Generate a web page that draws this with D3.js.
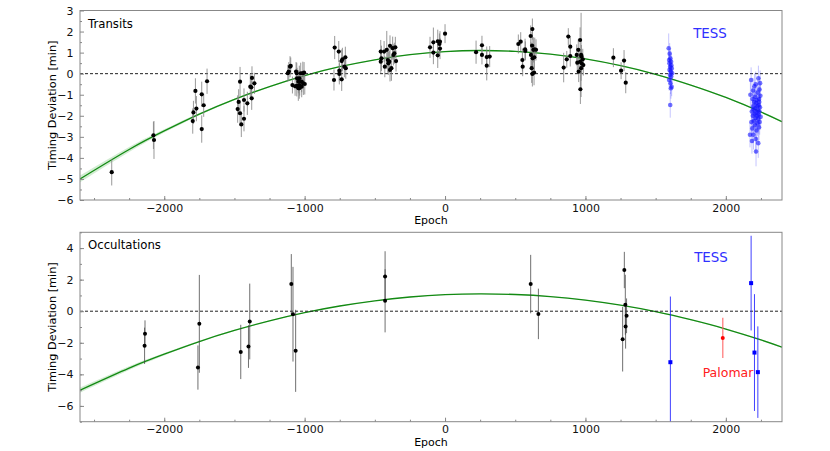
<!DOCTYPE html>
<html>
<head>
<meta charset="utf-8">
<script src="https://cdn.jsdelivr.net/npm/d3@7"></script>
<style>
  body { margin: 0; background: #fff; }
  svg { font-family: "DejaVu Sans", sans-serif; }
</style>
</head>
<body>
<div id="chart"></div>
<script>
// ---- data ----
// [epoch, deviation (min), error (min)]
var transits = [
  [-2374,-4.68,0.63], [-2077,-2.93,0.65], [-2073,-3.15,0.9],
  [-1797,-2.25,0.6], [-1792,-1.84,0.55], [-1778,-0.82,0.6], [-1771,-1.66,0.6],
  [-1733,-0.98,0.6], [-1733,-2.63,0.65], [-1719,-1.50,0.55], [-1695,-0.36,0.6],
  [-1477,-1.68,0.65], [-1470,-1.34,0.6], [-1460,-0.38,0.7], [-1460,-1.88,0.6],
  [-1451,-2.41,0.6], [-1432,-1.25,0.55], [-1432,-2.14,0.6], [-1408,-1.41,0.55],
  [-1387,-0.62,0.6], [-1375,-0.20,0.55], [-1380,-0.65,0.5], [-1377,-1.17,0.55],
  [-1358,-0.46,0.5],
  [-1120,0.02,0.4], [-1113,0.10,0.45], [-1104,0.33,0.5], [-1099,0.37,0.4],
  [-1087,-0.54,0.4], [-1068,-0.60,0.45], [-1061,0.10,0.45], [-1056,0.02,0.5],
  [-1056,-0.58,0.5], [-1054,-0.22,0.5], [-1045,-0.69,0.6], [-1045,-0.38,0.55],
  [-1038,-0.22,0.6], [-1038,-0.69,0.5], [-1035,-0.54,0.5], [-1028,0.02,0.5],
  [-1021,-0.38,0.5], [-1021,-0.62,0.5], [-1013,0.02,0.55], [-1009,-0.46,0.55],
  [-1004,0.05,0.5], [-999,-0.49,0.5],
  [-786,1.24,0.55], [-791,-0.30,0.5], [-757,1.05,0.5], [-753,0.14,0.5],
  [-753,-0.01,0.5], [-736,0.60,0.55], [-731,0.68,0.55], [-736,-0.27,0.55],
  [-717,0.33,0.5], [-710,0.78,0.5], [-707,0.26,0.5],
  [-458,1.05,0.55], [-458,0.57,0.55], [-453,0.73,0.6], [-434,1.05,0.5],
  [-429,0.33,0.5], [-415,1.13,0.9], [-408,0.65,0.6], [-404,0.49,0.55],
  [-397,0.57,0.5], [-392,1.32,0.5], [-392,0.18,0.55], [-382,0.26,0.6],
  [-373,1.21,0.55], [-368,0.89,0.5], [-361,0.97,0.5], [-354,1.25,0.5],
  [-349,0.60,0.5],
  [-107,1.25,0.5], [-83,1.49,0.7], [-83,1.00,0.55], [-52,1.54,0.55],
  [-52,0.87,0.6], [-40,1.41,0.5], [-36,1.52,0.5], [-36,1.19,0.5], [0,1.90,0.45],
  [221,1.02,0.55], [263,1.35,0.45], [263,0.89,0.45], [297,0.79,0.5],
  [297,0.38,0.7], [318,0.81,0.5],
  [522,1.41,0.45], [539,1.52,0.45], [551,0.65,0.55], [553,0.33,0.45],
  [570,1.16,0.5], [572,1.08,0.45], [610,1.79,0.5], [622,2.12,0.5],
  [612,0.89,0.6], [620,1.33,0.65], [629,1.13,0.6], [639,1.16,0.55],
  [648,1.13,0.5], [617,0.26,0.7], [622,-0.01,0.6], [634,0.05,0.6],
  [624,0.73,0.5], [636,0.78,0.6],
  [845,0.29,0.7], [867,0.68,0.4], [878,1.76,0.4], [892,1.28,0.5],
  [892,0.84,0.5], [938,0.89,0.5], [942,0.52,0.45], [949,1.13,0.5],
  [962,1.60,0.6], [969,0.89,2.0], [964,-0.74,0.7], [969,0.26,0.6],
  [973,0.49,0.5], [981,0.68,0.5], [985,0.41,0.5], [952,0.10,0.5],
  [962,0.57,0.6], [971,0.81,0.55],
  [1199,0.76,0.45], [1254,0.14,0.4], [1275,0.62,0.5], [1287,-0.43,0.5]
];

var tessTransits = [
  [1593,1.21,0.7], [1600,0.95,0.5], [1605,0.73,0.45], [1596,0.65,0.5],
  [1610,0.57,0.4], [1598,0.49,0.45], [1612,0.40,0.4], [1603,0.33,0.45],
  [1615,0.25,0.4], [1599,0.18,0.5], [1608,0.10,0.45], [1618,0.02,0.4],
  [1602,-0.06,0.45], [1611,-0.14,0.4], [1596,-0.30,0.5], [1606,-0.46,0.5],
  [1614,-0.62,0.45], [1609,-0.69,0.5], [1604,-1.49,0.6],
  [2180,-0.30,0.6], [2232,-0.22,0.6], [2215,-3.70,0.7], [2172,-2.90,0.6],
  [2175,-1.00,0.6], [2182,-2.30,0.7], [2185,-1.80,0.6], [2188,-2.60,0.7],
  [2190,-1.20,0.6], [2192,-2.00,0.6], [2195,-1.55,0.7], [2197,-2.90,0.7],
  [2198,-1.70,0.6], [2200,-2.25,0.6], [2202,-1.35,0.6], [2204,-0.60,0.6],
  [2205,-1.90,0.7], [2207,-2.45,0.6], [2209,-1.10,0.6], [2210,-1.65,0.6],
  [2212,-2.10,0.7], [2214,-3.10,0.7], [2216,-1.40,0.6], [2217,-1.85,0.6],
  [2218,-2.70,0.6], [2220,-1.25,0.6], [2222,-2.00,0.7], [2223,-1.55,0.6],
  [2225,-2.35,0.6], [2226,-0.90,0.6], [2228,-1.75,0.6], [2230,-2.15,0.7],
  [2231,-3.30,0.7], [2233,-1.50,0.6], [2234,-1.95,0.6], [2236,-2.55,0.6],
  [2237,-1.20,0.6], [2239,-1.80,0.7], [2240,-0.75,0.6], [2241,-2.30,0.6],
  [2243,-1.60,0.6], [2244,-0.45,0.6], [2246,-1.05,0.6], [2248,-2.05,0.6],
  [2238,-1.35,0.6], [2213,-0.50,0.6], [2186,-3.20,0.6], [2194,-0.80,0.6]
];

var occultations = [
  [-2137,-1.43,0.85], [-2140,-2.19,1.15], [-1750,-0.80,3.1], [-1760,-3.57,1.4],
  [-1455,-2.58,1.72], [-1400,-2.24,1.35], [-1391,-0.65,2.4], [-1095,1.72,1.9],
  [-1083,-0.19,3.0], [-1064,-2.51,2.6], [-427,2.20,1.6], [-427,0.66,2.0],
  [610,1.72,1.85], [665,-0.17,1.6], [1277,2.61,1.15], [1284,0.41,1.9],
  [1265,-1.77,2.05], [1293,-0.29,1.1], [1286,-0.97,1.4]
];

var tessOccultations = [
  [1605,-3.23,4.16], [2180,1.78,3.0], [2204,-2.62,3.7], [2228,-3.86,2.9]
];

var palomarOccultations = [
  [1978,-1.69,1.27]
];

// best-fit timing model
var modelEpoch = [-2600,-2250,-2000,-1750,-1500,-1250,-1000,-750,-500,-250,0,
                  250,500,750,1000,1250,1500,1750,2000,2250,2400];
var modelDev   = [-5.00,-3.60,-2.72,-1.92,-1.22,-0.61,-0.09,0.33,0.66,0.90,1.05,
                  1.10,1.06,0.93,0.70,0.38,-0.03,-0.54,-1.13,-1.82,-2.28];
var modelBand  = [0.16,0.12,0.08,0.05,0.04,0.03,0.03,0.02,0.02,0.02,0.02,
                  0.02,0.02,0.02,0.02,0.02,0.03,0.03,0.03,0.04,0.04];

var xTicks = [-2000, -1000, 0, 1000, 2000];
var yTicksTop = [-6, -5, -4, -3, -2, -1, 0, 1, 2, 3];
var yTicksBottom = [-6, -4, -2, 0, 2, 4];

// ---- layout ----
var width = 830, height = 451;
var left = 80, right = 782;
var fontSize = '11px';

var svg = d3.select('#chart')
  .append('svg')
  .attr('width', width)
  .attr('height', height);

var x = d3.scaleLinear().domain([-2600, 2400]).range([left, right]);

var model = modelEpoch.map(function(e, i) {
  return { e: e, v: modelDev[i], b: modelBand[i] };
});

function drawPanel(cfg) {
  var y = d3.scaleLinear().domain(cfg.yDomain).range([cfg.bottom, cfg.top]);
  var g = svg.append('g');

  var clipId = 'clip_' + cfg.name;
  svg.append('clipPath').attr('id', clipId)
    .append('rect')
    .attr('x', left).attr('y', cfg.top)
    .attr('width', right - left).attr('height', cfg.bottom - cfg.top);

  var plot = g.append('g').attr('clip-path', 'url(#' + clipId + ')');

  // model uncertainty band and curve
  plot.append('path')
    .datum(model)
    .attr('fill', '#7fc97f')
    .attr('opacity', 0.35)
    .attr('d', d3.area()
      .x(function(d) { return x(d.e); })
      .y0(function(d) { return y(d.v - d.b); })
      .y1(function(d) { return y(d.v + d.b); })
      .curve(d3.curveNatural));

  plot.append('path')
    .datum(model)
    .attr('fill', 'none')
    .attr('stroke', '#138a13')
    .attr('stroke-width', 1.3)
    .attr('d', d3.line()
      .x(function(d) { return x(d.e); })
      .y(function(d) { return y(d.v); })
      .curve(d3.curveNatural));

  // zero line
  plot.append('line')
    .attr('x1', left).attr('x2', right)
    .attr('y1', y(0)).attr('y2', y(0))
    .attr('stroke', '#222')
    .attr('stroke-width', 1)
    .attr('stroke-dasharray', '3,2');

  cfg.sets.forEach(function(s) {
    plot.append('g').selectAll('line')
      .data(s.data)
      .enter()
      .append('line')
      .attr('x1', function(d) { return x(d[0]); })
      .attr('x2', function(d) { return x(d[0]); })
      .attr('y1', function(d) { return y(d[1] - d[2]); })
      .attr('y2', function(d) { return y(d[1] + d[2]); })
      .attr('stroke', s.barColor)
      .attr('stroke-opacity', s.barOpacity)
      .attr('stroke-width', s.barWidth);

    var pts = plot.append('g').selectAll('.pt').data(s.data).enter();
    if (s.square) {
      pts.append('rect')
        .attr('x', function(d) { return x(d[0]) - 2; })
        .attr('y', function(d) { return y(d[1]) - 2; })
        .attr('width', 4).attr('height', 4)
        .attr('fill', s.color)
        .attr('fill-opacity', s.opacity);
    } else {
      pts.append('circle')
        .attr('cx', function(d) { return x(d[0]); })
        .attr('cy', function(d) { return y(d[1]); })
        .attr('r', s.r)
        .attr('fill', s.color)
        .attr('fill-opacity', s.opacity);
    }
  });

  // axes: ticks point inward, labels outside
  g.append('g')
    .attr('transform', 'translate(0,' + cfg.bottom + ')')
    .call(d3.axisBottom(x).tickValues(d3.range(-2500, 2401, 250)).tickSize(-2).tickFormat(''))
    .call(styleAxis);
  g.append('g')
    .attr('transform', 'translate(0,' + cfg.bottom + ')')
    .call(d3.axisBottom(x).tickValues(xTicks).tickSize(-4).tickPadding(4)
      .tickFormat(d3.format('d')))
    .call(styleAxis);

  g.append('g')
    .attr('transform', 'translate(' + left + ',0)')
    .call(d3.axisLeft(y).tickValues(cfg.yMinor).tickSize(-2).tickFormat(''))
    .call(styleAxis);
  g.append('g')
    .attr('transform', 'translate(' + left + ',0)')
    .call(d3.axisLeft(y).tickValues(cfg.yTicks).tickSize(-4).tickPadding(6.5)
      .tickFormat(d3.format('d')))
    .call(styleAxis);

  // frame
  g.append('rect')
    .attr('x', left).attr('y', cfg.top)
    .attr('width', right - left).attr('height', cfg.bottom - cfg.top)
    .attr('fill', 'none')
    .attr('stroke', '#888')
    .attr('stroke-width', 1);

  g.append('text')
    .attr('x', (left + right) / 2)
    .attr('y', cfg.bottom + 24.3)
    .attr('text-anchor', 'middle')
    .style('font-size', fontSize)
    .text('Epoch');

  g.append('text')
    .attr('transform', 'translate(52.5,' + (cfg.top + cfg.bottom) / 2 + ') rotate(-90)')
    .attr('text-anchor', 'middle')
    .attr('dy', '0.35em')
    .style('font-size', '11.3px')
    .text('Timing Deviation [min]');

  g.append('text')
    .attr('x', 88)
    .attr('y', cfg.top + 17)
    .style('font-size', '11.7px')
    .text(cfg.title);

  cfg.notes.forEach(function(n) {
    g.append('text')
      .attr('x', n.x)
      .attr('y', n.y)
      .attr('text-anchor', 'middle')
      .attr('fill', n.color)
      .style('font-size', n.size)
      .text(n.text);
  });
}

function styleAxis(sel) {
  sel.select('.domain').remove();
  sel.selectAll('.tick line').attr('stroke', '#888');
  sel.selectAll('.tick text')
    .attr('fill', '#111')
    .style('font-size', fontSize)
    .style('font-family', '"DejaVu Sans", sans-serif');
}

drawPanel({
  name: 'top',
  top: 10.5, bottom: 200,
  yDomain: [-6, 3],
  yTicks: yTicksTop,
  yMinor: d3.range(-5.5, 3, 1),
  title: 'Transits',
  sets: [
    { data: transits, color: '#000', opacity: 1, r: 2.1,
      barColor: '#808080', barOpacity: 0.8, barWidth: 1 },
    { data: tessTransits, color: '#1414ff', opacity: 0.6, r: 2.3,
      barColor: '#4040ff', barOpacity: 0.3, barWidth: 1 }
  ],
  notes: [
    { text: 'TESS', x: 710, y: 38, color: '#3030ff', size: '13.4px' }
  ]
});

drawPanel({
  name: 'bottom',
  top: 232.3, bottom: 421.7,
  yDomain: [-7, 5],
  yTicks: yTicksBottom,
  yMinor: d3.range(-7, 6, 1),
  title: 'Occultations',
  sets: [
    { data: occultations, color: '#000', opacity: 1, r: 2,
      barColor: '#404040', barOpacity: 0.75, barWidth: 1 },
    { data: tessOccultations, color: '#0000ff', opacity: 1, square: true,
      barColor: '#2020ff', barOpacity: 0.85, barWidth: 1 },
    { data: palomarOccultations, color: '#ff0000', opacity: 1, r: 2,
      barColor: '#ff6060', barOpacity: 0.7, barWidth: 1.5 }
  ],
  notes: [
    { text: 'TESS', x: 711, y: 262, color: '#3030ff', size: '13.4px' },
    { text: 'Palomar', x: 728, y: 377, color: '#ff2020', size: '12.5px' }
  ]
});
</script>
</body>
</html>
